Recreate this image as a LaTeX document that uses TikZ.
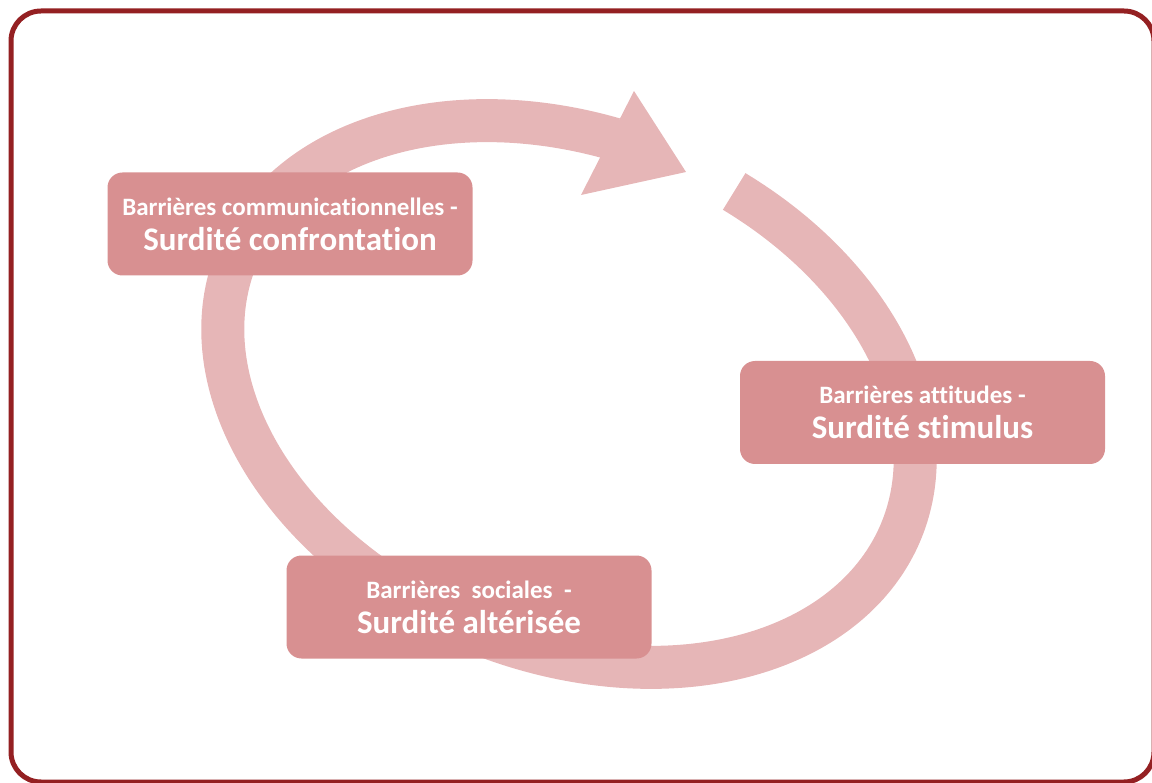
\documentclass[tikz,border=0pt]{standalone}
\usepackage{fontspec}
\setmainfont{Carlito}[Ligatures=NoCommon]
\usepackage{tikz}
\usetikzlibrary{positioning}

\definecolor{frameRed}{RGB}{148,32,34}
\definecolor{bandPink}{RGB}{230,182,183}
\definecolor{boxRed}{RGB}{216,144,145}

\newcommand{\lineA}[1]{{\fontsize{25}{35}\selectfont #1}}

\begin{document}
\begin{tikzpicture}[x=1pt,y=-1pt,
  barrier/.style={fill=boxRed, rounded corners=15pt, minimum width=365pt,
    minimum height=103pt, text=white, align=center,
    font=\fontsize{33}{35}\selectfont\bfseries, inner sep=0pt},
  cycleband/.style={draw=bandPink, line width=43pt}]
\useasboundingbox (0,0) rectangle (1152,783);
% Frame
\draw[frameRed, line width=5pt, rounded corners=30pt] (11,11) rectangle (1154,782);
% Cycle arrow
\draw[cycleband] plot[domain=282:621, samples=200, smooth]
  ({569 + 332*cos(\x) - 98.3*sin(\x)}, {394 + 137.5*cos(\x) + 236.3*sin(\x)});
\coordinate (headTop) at (634,91);
\coordinate (headBot) at (581,195);
\coordinate (headTip) at (686,172);
\fill[bandPink] (headTop) -- (headTip) -- (headBot) -- cycle;
% Boxes
\node[barrier] (comm) at (290,224) {\lineA{Barrières communicationnelles -}\\
  Surdité confrontation};
\node[barrier] (attit) at (922.5,412.5) {\lineA{Barrières attitudes -}\\
  Surdité stimulus};
\node[barrier] (social) at (469,607) {\lineA{Barrières\ \ sociales\ \ -}\\
  Surdité altérisée};
\end{tikzpicture}
\end{document}
